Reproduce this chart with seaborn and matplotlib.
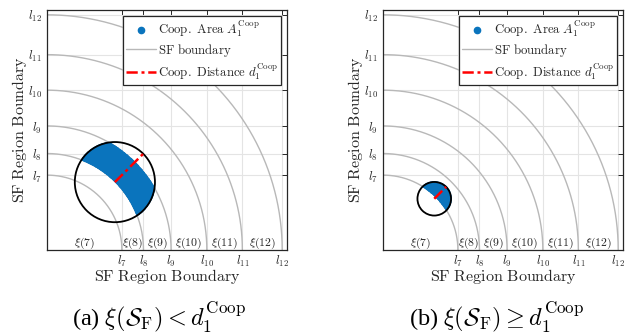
import numpy as np
import pandas as pd
import seaborn as sns
import matplotlib.pyplot as plt
from matplotlib.lines import Line2D
from matplotlib.patches import Circle

sns.set_theme(style="white")
plt.rcParams['mathtext.fontset'] = 'cm'
plt.rcParams['font.family'] = ['cmr10', 'DejaVu Serif']
plt.rcParams['axes.unicode_minus'] = False
plt.rcParams['axes.formatter.use_mathtext'] = True

# Spreading-factor region boundaries l_7 ... l_12 (normalised distance)
sf_levels = [7, 8, 9, 10, 11, 12]
sf_boundaries = [0.312, 0.402, 0.517, 0.666, 0.814, 0.980]
tick_labels = [r'$l_{7}$', r'$l_{8}$', r'$l_{9}$', r'$l_{10}$', r'$l_{11}$', r'$l_{12}$']
region_labels = [r'$\xi(7)$', r'$\xi(8)$', r'$\xi(9)$', r'$\xi(10)$', r'$\xi(11)$', r'$\xi(12)$']

# Per panel: node distance from gateway, bearing, cooperation distance,
# and the SF ring that forms the cooperative area
node_distance = [0.400, 0.302]
node_bearing_deg = [45.0, 45.0]
coop_distance = [0.167, 0.070]
coop_sf = [9, 8]
captions = [r'(a) $\xi(\mathcal{S}_{\mathrm{F}}) < d_1^{\mathrm{Coop}}$',
            r'(b) $\xi(\mathcal{S}_{\mathrm{F}}) \geq d_1^{\mathrm{Coop}}$']

AX_LIM = 1.0
BLUE = '#0a74bd'
ARC_GRAY = '#b8b8b8'
GRID_GRAY = '#e4e4e4'
DARK = '#262626'

fig = plt.figure(figsize=(6.26, 3.35), dpi=100)
W, H = 626.0, 335.0
panel_left_px = [47, 383]
caption_x_px = [159, 497]

for k in range(2):
    ax = fig.add_axes([panel_left_px[k] / W, 85 / H, 240 / W, 240 / H])
    ax.set_xlim(0, AX_LIM)
    ax.set_ylim(0, AX_LIM)

    # cooperative area sampled on a fine lattice inside the node's circle
    cx = node_distance[k] * np.cos(np.radians(node_bearing_deg[k]))
    cy = node_distance[k] * np.sin(np.radians(node_bearing_deg[k]))
    R = coop_distance[k]
    i = sf_levels.index(coop_sf[k])
    r_in, r_out = sf_boundaries[i - 1], sf_boundaries[i]
    g = np.arange(0.0, AX_LIM, 0.0022)
    X, Y = np.meshgrid(g, g)
    rr = np.hypot(X, Y)
    mask = ((X - cx) ** 2 + (Y - cy) ** 2 <= R ** 2) & (rr >= r_in) & (rr <= r_out)
    pts = pd.DataFrame({'x': X[mask], 'y': Y[mask]})
    sns.scatterplot(data=pts, x='x', y='y', ax=ax, s=1.6, color=BLUE,
                    edgecolor='none', linewidth=0, legend=False, zorder=3)

    # SF boundaries as quarter circles around the gateway
    theta = np.linspace(0, np.pi / 2, 300)
    for lb in sf_boundaries:
        arc = pd.DataFrame({'x': lb * np.cos(theta), 'y': lb * np.sin(theta)})
        sns.lineplot(data=arc, x='x', y='y', ax=ax, sort=False, estimator=None,
                     color=ARC_GRAY, linewidth=1.0, zorder=2)

    # cooperation range and distance
    ax.add_patch(Circle((cx, cy), R, fill=False, edgecolor='black', linewidth=1.3, zorder=4))
    seg = pd.DataFrame({'x': [cx, cx + R * np.cos(np.radians(node_bearing_deg[k]))],
                        'y': [cy, cy + R * np.sin(np.radians(node_bearing_deg[k]))]})
    sns.lineplot(data=seg, x='x', y='y', ax=ax, sort=False, estimator=None,
                 color='red', linewidth=1.8, zorder=5, dashes=False)
    ax.lines[-1].set_dashes([4.5, 1.5, 1.2, 1.5])

    # region names along the bottom
    edges = [0.0] + sf_boundaries
    for j, lab in enumerate(region_labels):
        ax.text((edges[j] + edges[j + 1]) / 2, 0.027, lab, ha='center', va='center',
                fontsize=8.5, color=DARK, zorder=6)

    ax.set_xticks(sf_boundaries)
    ax.set_yticks(sf_boundaries)
    ax.set_xticklabels(tick_labels, fontsize=9)
    ax.set_yticklabels(tick_labels, fontsize=9)
    ax.tick_params(direction='in', length=3.5, width=0.7, top=True, right=True,
                   colors=DARK, pad=3.5)
    ax.tick_params(axis='x', pad=2.5)
    ax.grid(True, color=GRID_GRAY, linewidth=0.8)
    ax.set_axisbelow(True)
    for sp in ax.spines.values():
        sp.set_color(DARK)
        sp.set_linewidth(0.9)

    ax.set_xlabel(r'$\mathrm{SF\ Region\ Boundary}$', fontsize=11.5, color=DARK, labelpad=-1)
    ax.set_ylabel(r'$\mathrm{SF\ Region\ Boundary}$', fontsize=11.5, color=DARK, labelpad=-1)

    handles = [
        Line2D([], [], marker='o', linestyle='none', markersize=4.5, color=BLUE),
        Line2D([], [], color=ARC_GRAY, linewidth=1.0),
        Line2D([], [], color='red', linewidth=1.8, dashes=[4.5, 1.5, 1.2, 1.5]),
    ]
    labels = [r'$\mathrm{Coop.\ Area}\ A_1^{\mathrm{Coop}}$',
              r'$\mathrm{SF\ boundary}$',
              r'$\mathrm{Coop.\ Distance}\ d_1^{\mathrm{Coop}}$']
    leg = ax.legend(handles, labels, loc='upper right', fontsize=9.2, frameon=True,
                    fancybox=False, framealpha=1, edgecolor=DARK, borderpad=0.25,
                    labelspacing=0.2, handlelength=2.3, handletextpad=0.15,
                    borderaxespad=0.45)
    leg.get_frame().set_linewidth(0.9)
    leg.set_zorder(10)

    fig.text(caption_x_px[k] / W, (H - 317) / H, captions[k], ha='center', va='center',
             fontsize=17.5, family='Liberation Serif', color='black')

fig.savefig('out.png', dpi=100)
